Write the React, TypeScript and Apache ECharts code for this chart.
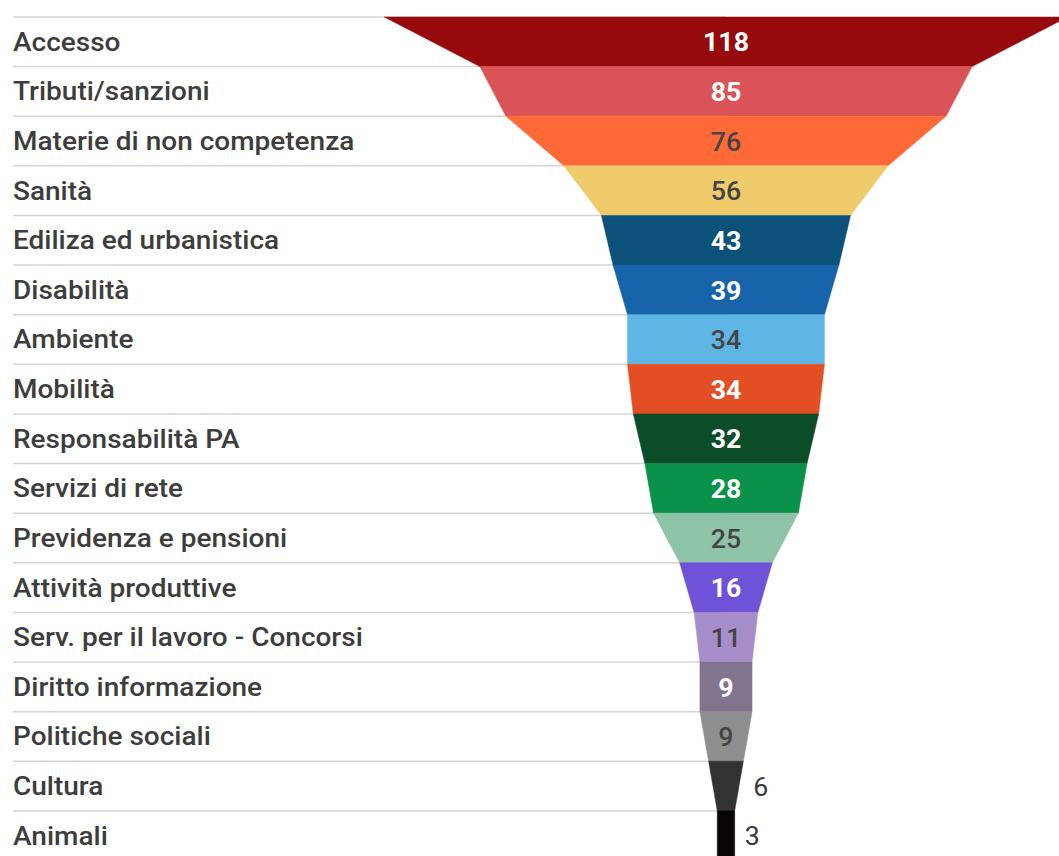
import React, { useEffect, useRef } from "react";
import * as echarts from "echarts";

const CATEGORIES = [
  "Accesso",
  "Tributi/sanzioni",
  "Materie di non competenza",
  "Sanità",
  "Ediliza ed urbanistica",
  "Disabilità",
  "Ambiente",
  "Mobilità",
  "Responsabilità PA",
  "Servizi di rete",
  "Previdenza e pensioni",
  "Attività produttive",
  "Serv. per il lavoro - Concorsi",
  "Diritto informazione",
  "Politiche sociali",
  "Cultura",
  "Animali",
];

const VALUES = [118, 85, 76, 56, 43, 39, 34, 34, 32, 28, 25, 16, 11, 9, 9, 6, 3];

const COLORS = [
  "#960a0e",
  "#da5457",
  "#fe6a37",
  "#f0cb6b",
  "#0b5179",
  "#1764ab",
  "#5fb6e4",
  "#e34f25",
  "#0b4d28",
  "#0a914a",
  "#8fc3a7",
  "#6e53d9",
  "#a68eca",
  "#82738f",
  "#8e8e8e",
  "#333333",
  "#0a0505",
];

// light = white label inside, dark = dark label inside, out = dark label outside right
const LABEL_TONES = [
  "light", "light", "dark", "dark", "light", "light", "dark", "light", "light",
  "light", "dark", "light", "dark", "light", "dark", "out", "out",
];

export default function App() {
  const ref = useRef<HTMLDivElement>(null);

  useEffect(() => {
    document.body.style.margin = "0";
    document.body.style.overflow = "hidden";
    const chart = echarts.init(ref.current!, null, { renderer: "svg" });
    const rows = VALUES.map((v, i) => [v, i < VALUES.length - 1 ? VALUES[i + 1] : v, i]);

    const separators = (params: any, api: any) => {
      const i = api.value(2);
      const c = api.coord([0, i]);
      const h = api.size([0, 1])[1];
      const x0 = params.coordSys.x + 11;
      const children: any[] = [
        {
          type: "line",
          shape: { x1: x0, y1: c[1] - h / 2, x2: c[0], y2: c[1] - h / 2 },
          style: { stroke: "#d4d4d4", lineWidth: 1.5 },
        },
        {
          type: "text",
          x: x0,
          y: c[1],
          scaleX: 1.12,
          style: {
            text: CATEGORIES[i],
            fill: "#3d3d3d",
            fontSize: 25,
            fontFamily: "Roboto",
            fontWeight: 500,
            align: "left",
            verticalAlign: "middle",
          },
        },
      ];
      if (i === VALUES.length - 1) {
        children.push({
          type: "line",
          shape: { x1: x0, y1: c[1] + h / 2, x2: c[0], y2: c[1] + h / 2 },
          style: { stroke: "#d4d4d4", lineWidth: 1.5 },
        });
      }
      return { type: "group", children };
    };

    const funnel = (params: any, api: any) => {
      const i = api.value(2);
      const v = api.value(0);
      const nv = api.value(1);
      const c = api.coord([0, i]);
      const h = api.size([0, 1])[1];
      const top = c[1] - h / 2;
      const bot = c[1] + h / 2;
      const xl = api.coord([-v, i])[0];
      const xr = api.coord([v, i])[0];
      const nl = api.coord([-nv, i])[0];
      const nr = api.coord([nv, i])[0];
      const tone = LABEL_TONES[i];
      return {
        type: "group",
        children: [
          {
            type: "polygon",
            shape: { points: [[xl, top], [xr, top], [nr, bot], [nl, bot]] },
            style: { fill: COLORS[i], stroke: COLORS[i], lineWidth: 0.5 },
          },
          {
            type: "text",
            x: tone === "out" ? xr + 10 : c[0],
            y: c[1] + 1,
            scaleX: 1.07,
            style: {
              text: String(v),
              fill: tone === "light" ? "#ffffff" : tone === "dark" ? "#454545" : "#3a3a3a",
              fontSize: 25,
              fontFamily: "Roboto",
              fontWeight: tone === "light" ? "bold" : tone === "dark" ? 500 : "normal",
              align: tone === "out" ? "left" : "center",
              verticalAlign: "middle",
            },
          },
        ],
      };
    };

    chart.setOption({
      animation: false,
      grid: { left: 2, right: 0, top: 17, height: 843.5 },
      xAxis: { type: "value", min: -250, max: 115, show: false },
      yAxis: {
        type: "category",
        data: CATEGORIES,
        inverse: true,
        axisLine: { show: false },
        axisTick: { show: false },
        splitLine: { show: false },
        axisLabel: { show: false },
      },
      series: [
        { type: "custom", data: rows, encode: { x: 0, y: 2 }, renderItem: separators, z: 1, silent: true },
        { type: "custom", data: rows, encode: { x: 0, y: 2 }, renderItem: funnel, z: 2, silent: true },
      ],
    });

    return () => chart.dispose();
  }, []);

  return (
    <div style={{ width: 1059, height: 856, overflow: "hidden" }}>
      <div ref={ref} style={{ width: 1059, height: 880 }} />
    </div>
  );
}
